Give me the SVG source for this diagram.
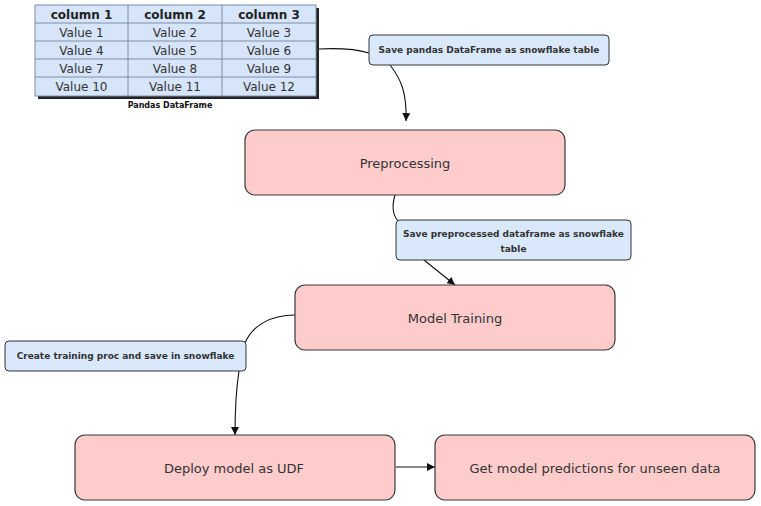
<svg xmlns="http://www.w3.org/2000/svg" width="761" height="506" viewBox="0 0 761 506">
<defs>
<style>
.node{fill:#ffcccc;stroke:#36393d;stroke-width:1.2}
.lbl{fill:#dae8fc;stroke:#333;stroke-width:1}
.nt{font-family:"DejaVu Sans",Verdana,sans-serif;font-size:13px;fill:#333;text-anchor:middle;dominant-baseline:central}
.lt{font-family:"DejaVu Sans",Verdana,sans-serif;font-size:9px;font-weight:bold;fill:#333;text-anchor:middle;dominant-baseline:central}
.th{font-family:"DejaVu Sans",Verdana,sans-serif;font-size:12px;font-weight:bold;fill:#222;text-anchor:middle;dominant-baseline:central}
.td{font-family:"DejaVu Sans",Verdana,sans-serif;font-size:12px;fill:#333;text-anchor:middle;dominant-baseline:central}
.grid{stroke:#7f8ea6;stroke-width:1;fill:none}
.edge{fill:none;stroke:#111;stroke-width:1.1}
</style>
<marker id="arr" markerUnits="userSpaceOnUse" markerWidth="9" markerHeight="9" refX="8" refY="4" orient="auto">
<path d="M0,0 L8,4 L0,8 z" fill="#111"/>
</marker>
</defs>

<g id="table">
<rect x="38" y="8" width="281" height="91" fill="#222"/>
<rect x="35" y="5" width="281" height="91" fill="#d6e5fa" stroke="#7f8ea6"/>
<g class="grid">
<line x1="35" y1="23" x2="316" y2="23"/>
<line x1="35" y1="41" x2="316" y2="41"/>
<line x1="35" y1="59" x2="316" y2="59"/>
<line x1="35" y1="77" x2="316" y2="77"/>
<line x1="128" y1="5" x2="128" y2="96"/>
<line x1="222" y1="5" x2="222" y2="96"/>
</g>
<text class="th" x="81.5" y="14.5">column 1</text>
<text class="th" x="175" y="14.5">column 2</text>
<text class="th" x="269" y="14.5">column 3</text>
<text class="td" x="81.5" y="32.5">Value 1</text>
<text class="td" x="175" y="32.5">Value 2</text>
<text class="td" x="269" y="32.5">Value 3</text>
<text class="td" x="81.5" y="50.5">Value 4</text>
<text class="td" x="175" y="50.5">Value 5</text>
<text class="td" x="269" y="50.5">Value 6</text>
<text class="td" x="81.5" y="68.5">Value 7</text>
<text class="td" x="175" y="68.5">Value 8</text>
<text class="td" x="269" y="68.5">Value 9</text>
<text class="td" x="81.5" y="86.5">Value 10</text>
<text class="td" x="175" y="86.5">Value 11</text>
<text class="td" x="269" y="86.5">Value 12</text>
<text class="lt" x="170" y="105" style="font-size:8px;fill:#111">Pandas DataFrame</text>
</g>

<g id="connectors">
<path class="edge" d="M319,49 C340,48 356,49 369,53"/>
<path class="edge" d="M390,65 C401,79 407,93 406,121" marker-end="url(#arr)"/>
<path class="edge" d="M395,195 C392,205 392,214 398,221"/>
<path class="edge" d="M424,260 L455,285" marker-end="url(#arr)"/>
<path class="edge" d="M295,315 C270,315 252,326 245,343"/>
<path class="edge" d="M239,371 C236,390 235,410 235,435" marker-end="url(#arr)"/>
<path class="edge" d="M396,467 L435,467" marker-end="url(#arr)"/>
</g>

<g id="label-save-pandas">
<rect class="lbl" x="369" y="35" width="240" height="30" rx="4"/>
<text class="lt" x="489" y="50">Save pandas DataFrame as snowflake table</text>
</g>

<g id="node-preprocessing">
<rect class="node" x="245" y="130" width="320" height="65" rx="10"/>
<text class="nt" x="405" y="163">Preprocessing</text>
</g>

<g id="label-save-preprocessed">
<rect class="lbl" x="396" y="220" width="235" height="40" rx="4"/>
<text class="lt" x="513.5" y="233.5">Save preprocessed dataframe as snowflake</text>
<text class="lt" x="513.5" y="248.5">table</text>
</g>

<g id="node-model-training">
<rect class="node" x="295" y="285" width="320" height="65" rx="10"/>
<text class="nt" x="455" y="318">Model Training</text>
</g>

<g id="label-training-proc">
<rect class="lbl" x="5" y="341" width="241" height="30" rx="4"/>
<text class="lt" x="125.5" y="356">Create training proc and save in snowflake</text>
</g>

<g id="node-deploy">
<rect class="node" x="75" y="435" width="320" height="65" rx="10"/>
<text class="nt" x="234" y="468">Deploy model as UDF</text>
</g>

<g id="node-predictions">
<rect class="node" x="435" y="435" width="320" height="65" rx="10"/>
<text class="nt" x="595" y="468">Get model predictions for unseen data</text>
</g>
</svg>
